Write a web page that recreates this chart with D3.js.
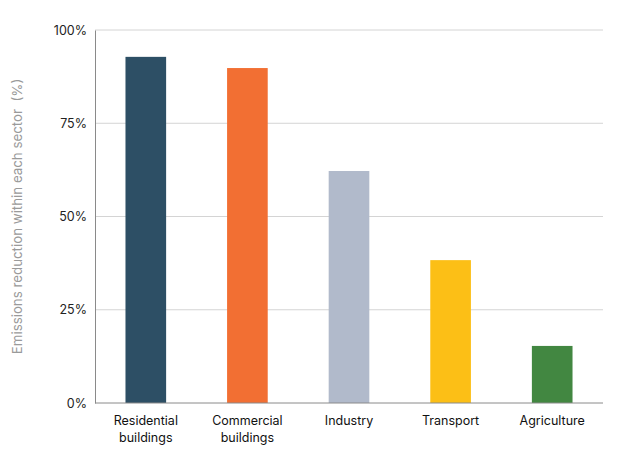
<!DOCTYPE html>
<html>
<head>
<meta charset="utf-8">
<script src="https://cdn.jsdelivr.net/npm/d3@7"></script>
<style>
  body { margin: 0; background: #fff; }
  text { font-family: Inter, "Noto Sans", sans-serif; }
</style>
</head>
<body>
<svg width="622" height="451"></svg>
<script>
// Data
const sectors = [["Residential", "buildings"], ["Commercial", "buildings"], ["Industry"], ["Transport"], ["Agriculture"]];
const values = [0.928, 0.898, 0.622, 0.383, 0.153];
const colors = ["#2d4f65", "#f26f33", "#b1bacb", "#fcbf16", "#428741"];
const yTicks = [0, 0.25, 0.5, 0.75, 1];

const svg = d3.select("svg");
const margin = { top: 30, right: 19, bottom: 48, left: 95 };
const width = 622 - margin.left - margin.right;
const height = 451 - margin.top - margin.bottom;

const g = svg.append("g").attr("transform", `translate(${margin.left},${margin.top})`);

const x = d3.scaleBand()
    .domain(d3.range(sectors.length))
    .range([0, width])
    .paddingInner(0.6)
    .paddingOuter(0.3);

const y = d3.scaleLinear().domain([0, 1]).range([height, 0]);

// Gridlines
g.append("g")
    .selectAll("line")
    .data(yTicks.filter(t => t > 0))
    .enter().append("line")
    .attr("x1", 0)
    .attr("x2", width)
    .attr("y1", d => y(d))
    .attr("y2", d => y(d))
    .attr("stroke", "#d4d4d4")
    .attr("stroke-width", 1);

// Bars
g.append("g")
    .selectAll("rect")
    .data(values)
    .enter().append("rect")
    .attr("x", (d, i) => x(i))
    .attr("y", d => y(d))
    .attr("width", x.bandwidth())
    .attr("height", d => height - y(d))
    .attr("fill", (d, i) => colors[i]);

// Y axis
const yAxis = g.append("g")
    .call(d3.axisLeft(y).tickValues(yTicks).tickFormat(d3.format(".0%")).tickSize(0).tickPadding(8));
yAxis.select(".domain").attr("stroke", "#8a8a8a");
yAxis.selectAll("text").attr("font-size", 12.5).attr("fill", "#222");

// X axis baseline
g.append("line")
    .attr("x1", 0).attr("x2", width)
    .attr("y1", height).attr("y2", height)
    .attr("stroke", "#8a8a8a");

// X labels (two lines where needed)
const xl = g.append("g")
    .selectAll("text")
    .data(sectors)
    .enter().append("text")
    .attr("x", (d, i) => x(i) + x.bandwidth() / 2)
    .attr("y", height + 22)
    .attr("text-anchor", "middle")
    .attr("font-size", 12.5)
    .attr("fill", "#111");
xl.selectAll("tspan")
    .data(d => d)
    .enter().append("tspan")
    .attr("x", function () { return this.parentNode.getAttribute("x"); })
    .attr("dy", (d, i) => i === 0 ? 0 : 17)
    .text(d => d);

// Y axis title
svg.append("text")
    .attr("transform", `translate(22,${margin.top + height / 2}) rotate(-90)`)
    .attr("text-anchor", "middle")
    .attr("font-size", 13.3)
    .attr("fill", "#9a9a9a")
    .attr("xml:space", "preserve")
    .text("Emissions reduction within each sector  (%)");
</script>
</body>
</html>
